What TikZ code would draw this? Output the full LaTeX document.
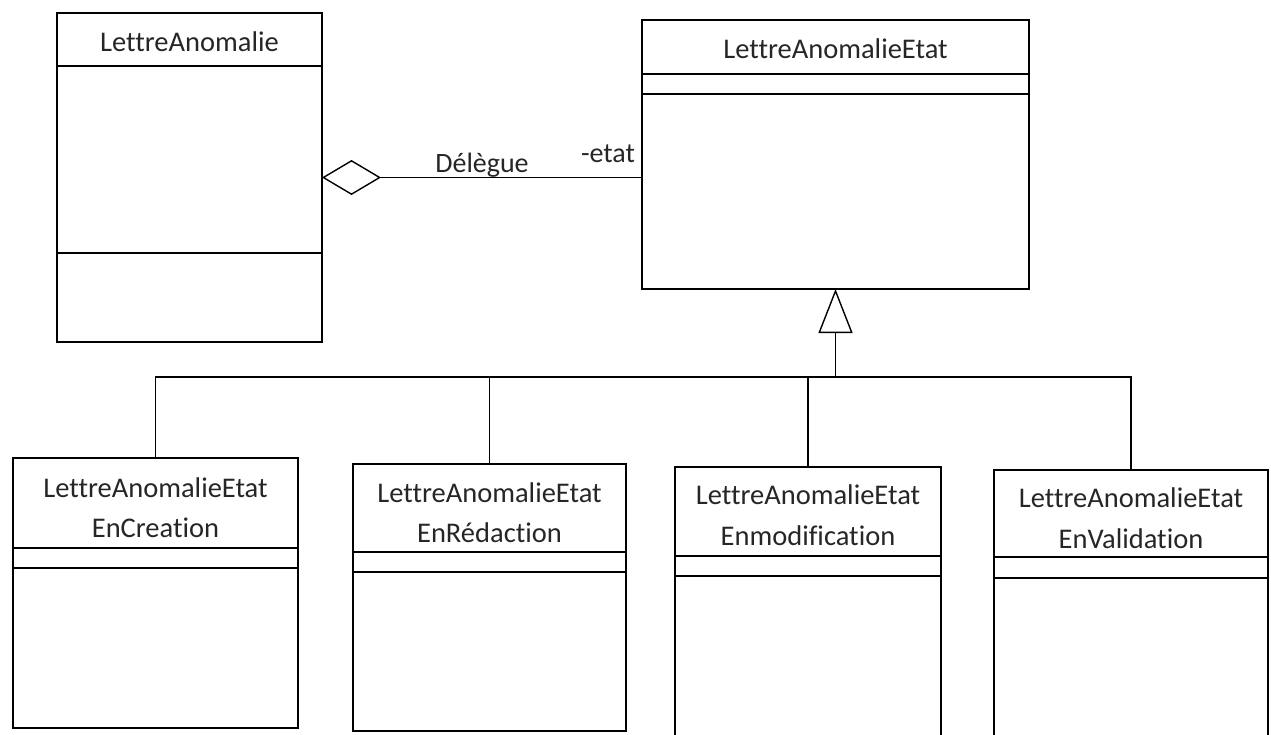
\documentclass[tikz,border=0pt]{standalone}
\usepackage{fontspec}
\setmainfont{Carlito}[Ligatures={NoCommon}]
\usetikzlibrary{arrows.meta}
\begin{document}
\begin{tikzpicture}[x=1pt,y=-1pt,
  line width=1.4pt,
  classbox/.style={draw, anchor=north west, inner sep=0pt, outer sep=0pt},
  ttl/.style={anchor=base, inner sep=0pt, font=\fontsize{28.5}{34}\selectfont, text=black!85},
  lbl/.style={anchor=base, inner sep=0pt, font=\fontsize{28}{34}\selectfont, text=black!85},
  agg/.style={{Diamond[open,length=59pt,width=35pt]}-},
  gen/.style={{Triangle[open,length=44pt,width=34pt]}-}]
\useasboundingbox (0,0) rectangle (1271,734);
\clip (0,0) rectangle (1271,734);

% Context class
\node[classbox, minimum width=265pt, minimum height=329pt] (A) at (57,13) {};
\draw (A.west |- 0,66) -- (A.east |- 0,66);
\draw (A.west |- 0,253) -- (A.east |- 0,253);
\node[ttl] (Atitle) at (A.north |- 0,51) {LettreAnomalie};

% Abstract state class
\node[classbox, minimum width=387pt, minimum height=269pt] (B) at (642,20) {};
\draw (B.west |- 0,74) -- (B.east |- 0,74);
\draw (B.west |- 0,94) -- (B.east |- 0,94);
\node[ttl] (Btitle) at (B.north |- 0,58) {LettreAnomalieEtat};

% Aggregation with its labels
\draw[agg] (A.east) -- (B.west |- A.east);
\node[lbl] (deleg) at (482,172) {Délègue};
\node[lbl] (etat) at (608,162) {-etat};

% Concrete state classes
\node[classbox, minimum width=285pt, minimum height=270pt] (C1) at (13,458) {};
\draw (C1.west |- 0,548) -- (C1.east |- 0,548);
\draw (C1.west |- 0,568) -- (C1.east |- 0,568);
\node[ttl] (C1a) at (C1.north |- 0,497) {LettreAnomalieEtat};
\node[ttl] (C1b) at (C1.north |- 0,537) {EnCreation};

\node[classbox, minimum width=273pt, minimum height=267pt] (C2) at (353,464) {};
\draw (C2.west |- 0,552) -- (C2.east |- 0,552);
\draw (C2.west |- 0,572) -- (C2.east |- 0,572);
\node[ttl] (C2a) at (C2.north |- 0,502) {LettreAnomalieEtat};
\node[ttl] (C2b) at (C2.north |- 0,542) {EnRédaction};

\node[classbox, minimum width=266pt, minimum height=290pt] (C3) at (675,467) {};
\draw (C3.west |- 0,556) -- (C3.east |- 0,556);
\draw (C3.west |- 0,576) -- (C3.east |- 0,576);
\node[ttl] (C3a) at (C3.north |- 0,504) {LettreAnomalieEtat};
\node[ttl] (C3b) at (C3.north |- 0,545) {Enmodification};

\node[classbox, minimum width=274pt, minimum height=290pt] (C4) at (994,470) {};
\draw (C4.west |- 0,557) -- (C4.east |- 0,557);
\draw (C4.west |- 0,578) -- (C4.east |- 0,578);
\node[ttl] (C4a) at (C4.north |- 0,507) {LettreAnomalieEtat};
\node[ttl] (C4b) at (C4.north |- 0,548) {EnValidation};

% Generalisation tree
\coordinate (bus) at (B.south |- 0,377);
\draw[gen] (B.south) -- (bus);
\draw (C1.north) -- (C1.north |- bus) -- (C4.north |- bus) -- (C4.north);
\draw (C2.north) -- (C2.north |- bus);
\draw (C3.north) -- (C3.north |- bus);
\end{tikzpicture}
\end{document}
